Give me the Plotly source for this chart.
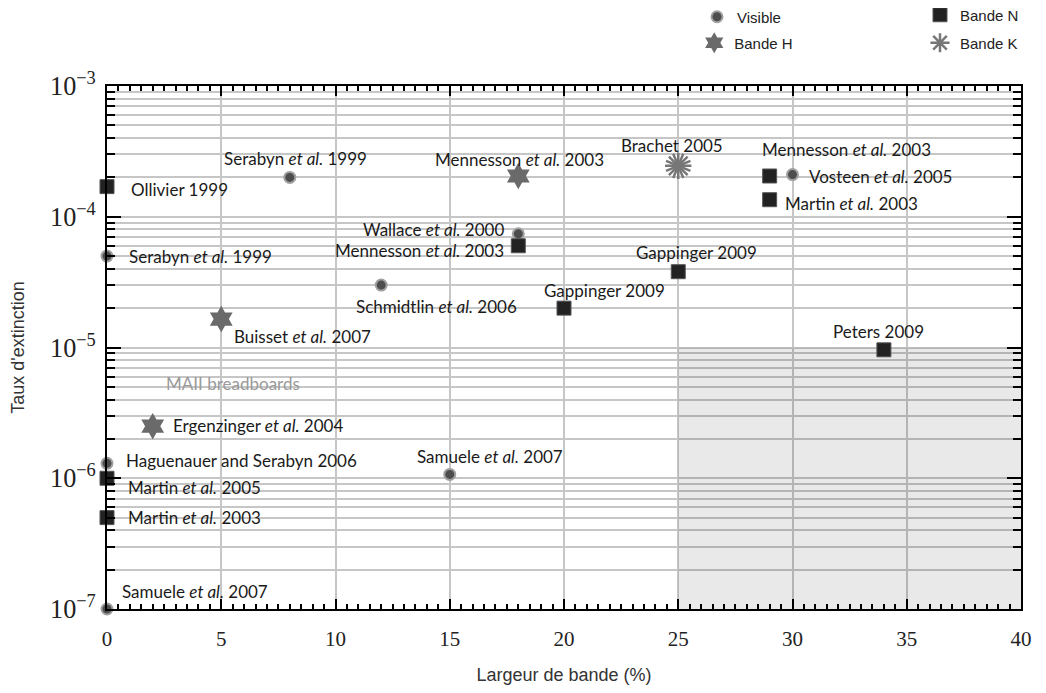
import numpy as np
import plotly.graph_objects as go

# ---------------- data ----------------
vis_x = [8, 0, 18, 12, 15, 0, 0, 30]
vis_y = [2.0e-4, 5.0e-5, 7.4e-5, 3.0e-5, 1.07e-6, 1.3e-6, 1.0e-7, 2.1e-4]

n_x = [0, 18, 20, 25, 29, 29, 34, 0, 0]
n_y = [1.7e-4, 6.0e-5, 2.0e-5, 3.8e-5, 2.05e-4, 1.35e-4, 9.6e-6, 1.0e-6, 5.0e-7]

h_x = [18, 5, 2]
h_y = [2.05e-4, 1.65e-5, 2.5e-6]

k_x = [25]
k_y = [2.45e-4]

zone_x = [25, 40, 40, 25, 25]
zone_y = [1e-7, 1e-7, 1e-5, 1e-5, 1e-7]

label_text = [
    "Serabyn <i>et al.</i> 1999", "Ollivier 1999", "Serabyn <i>et al.</i> 1999",
    "Mennesson <i>et al.</i> 2003", "Wallace <i>et al.</i> 2000", "Mennesson <i>et al.</i> 2003",
    "Schmidtlin <i>et al.</i> 2006", "Gappinger 2009", "Gappinger 2009", "Brachet 2005",
    "Mennesson <i>et al.</i> 2003", "Vosteen <i>et al.</i> 2005", "Martin <i>et al.</i> 2003",
    "Peters 2009", "Buisset <i>et al.</i> 2007", "Ergenzinger <i>et al.</i> 2004",
    "Haguenauer and Serabyn 2006", "Martin <i>et al.</i> 2005", "Martin <i>et al.</i> 2003",
    "Samuele <i>et al.</i> 2007", "Samuele <i>et al.</i> 2007",
]
label_x = [8, 0, 0, 18, 18, 18, 12, 20, 25, 25, 29, 30, 29, 34, 5, 2, 0, 0, 0, 0, 15]
label_y = [2.0e-4, 1.7e-4, 5.0e-5, 2.05e-4, 7.4e-5, 6.0e-5, 3.0e-5, 2.0e-5, 3.8e-5, 2.45e-4,
           2.05e-4, 2.1e-4, 1.35e-4, 9.6e-6, 1.65e-5, 2.5e-6, 1.3e-6, 1.0e-6, 5.0e-7, 1.0e-7, 1.07e-6]

x_ticks = [0, 5, 10, 15, 20, 25, 30, 35, 40]

# label placement (style/position, not data)
lab_anchor = ["center", "left", "left", "center", "right", "right", "left", "left", "left", "center",
              "left", "left", "left", "center", "left", "left", "left", "left", "left", "left", "left"]
lab_dx = [6, 22, 20, 1, -12, -12, -27, -22, -44, -6, -10, 14, 13, -5, 11, 18, 17, 19, 19, 13, -35]
lab_dy = [19, -3, 0, 16, 4, -5, -21, 18, 19, 20, 26, -2, -4, 18, -17, 1, 3, -9, 0, 18, 18]

fig = go.Figure()

# shaded zone
fig.add_trace(go.Scatter(x=zone_x, y=zone_y, mode="lines", fill="toself",
                         fillcolor="rgba(0,0,0,0.085)", line=dict(width=0),
                         hoverinfo="skip", showlegend=False))

fig.add_trace(go.Scatter(x=vis_x, y=vis_y, mode="markers", name="Visible",
                         marker=dict(symbol="circle", size=11, color="#4d4d4d",
                                     line=dict(color="#a0a0a0", width=2)),
                         cliponaxis=False, legend="legend"))
fig.add_trace(go.Scatter(x=n_x, y=n_y, mode="markers", name="Bande N",
                         marker=dict(symbol="square", size=14, color="#222222",
                                     line=dict(color="#555555", width=1)),
                         cliponaxis=False, legend="legend3"))
fig.add_trace(go.Scatter(x=h_x, y=h_y, mode="markers", name="Bande H",
                         marker=dict(symbol="hexagram", size=20, color="#6a6a6a",
                                     line=dict(width=0)),
                         cliponaxis=False, legend="legend2"))
fig.add_trace(go.Scatter(x=k_x, y=k_y, mode="markers", name="Bande K",
                         marker=dict(symbol="asterisk-open", size=22, color="#777777",
                                     line=dict(color="#777777", width=2.5)),
                         cliponaxis=False, legend="legend4"))
fig.add_trace(go.Scatter(x=k_x, y=k_y, mode="markers", showlegend=False,
                         marker=dict(symbol="asterisk-open", size=22, angle=22.5, color="#777777",
                                     line=dict(color="#777777", width=2.5)),
                         cliponaxis=False))
fig.add_trace(go.Scatter(x=k_x, y=k_y, mode="markers", showlegend=False,
                         marker=dict(symbol="circle", size=9, color="#777777"),
                         cliponaxis=False))

lab_font = dict(family="Lato", size=17, color="#1a1a1a")
for t, x, y, a, dx, dy in zip(label_text, label_x, label_y, lab_anchor, lab_dx, lab_dy):
    fig.add_annotation(x=x, y=np.log10(y), text=t, showarrow=False, xanchor=a,
                       yanchor="middle", xshift=dx, yshift=dy, font=lab_font)

fig.add_annotation(x=2.5, y=np.log10(5.3e-6), text="MAII breadboards", showarrow=False,
                   xanchor="left", yanchor="middle", font=dict(family="Lato", size=17, color="#9a9a9a"))

grid_col = "#c6c6c6"
fig.update_xaxes(range=[0, 40], tickvals=x_ticks, showgrid=True, gridcolor=grid_col, gridwidth=2,
                 showline=True, linecolor="black", linewidth=2, mirror="allticks",
                 ticks="inside", ticklen=10, tickwidth=2, tickcolor="black",
                 minor=dict(dtick=0.5, ticks="inside", ticklen=5, tickwidth=1.5, tickcolor="black", showgrid=False),
                 tickfont=dict(family="Liberation Serif", size=21, color="#222"),
                 ticklabelstandoff=10, automargin=False,
                 title=dict(text="Largeur de bande (%)", font=dict(family="Liberation Sans", size=18, color="#333"),
                            standoff=22),
                 zeroline=False)
fig.update_yaxes(type="log", range=[-7, -3], dtick=1, exponentformat="power", showexponent="all",
                 showgrid=True, gridcolor=grid_col, gridwidth=2,
                 showline=True, linecolor="black", linewidth=2, mirror="allticks",
                 ticks="inside", ticklen=14, tickwidth=2, tickcolor="black",
                 minor=dict(dtick="D1", ticks="inside", ticklen=8, tickwidth=2, tickcolor="black",
                            showgrid=True, gridcolor=grid_col, gridwidth=2),
                 tickfont=dict(family="Liberation Serif", size=21, color="#222"),
                 ticklabelstandoff=5, automargin=False,
                 title=dict(text="Taux d'extinction", font=dict(family="Liberation Sans", size=18, color="#333"),
                            standoff=22),
                 zeroline=False)

leg_common = dict(bgcolor="rgba(0,0,0,0)", font=dict(family="Liberation Sans", size=15, color="#222"),
                  xanchor="left", yanchor="middle", itemsizing="trace")
fig.update_layout(
    width=1030, height=677,
    margin=dict(l=99, r=17, t=78, b=76, autoexpand=False),
    plot_bgcolor="white", paper_bgcolor="white",
    legend=dict(x=0.6455, y=(609 - 17) / 523, **leg_common),
    legend2=dict(x=0.6425, y=(609 - 43) / 523, **leg_common),
    legend3=dict(x=0.8895, y=(609 - 15) / 523, **leg_common),
    legend4=dict(x=0.8895, y=(609 - 43) / 523, **leg_common),
)

fig.write_html("out.html")
